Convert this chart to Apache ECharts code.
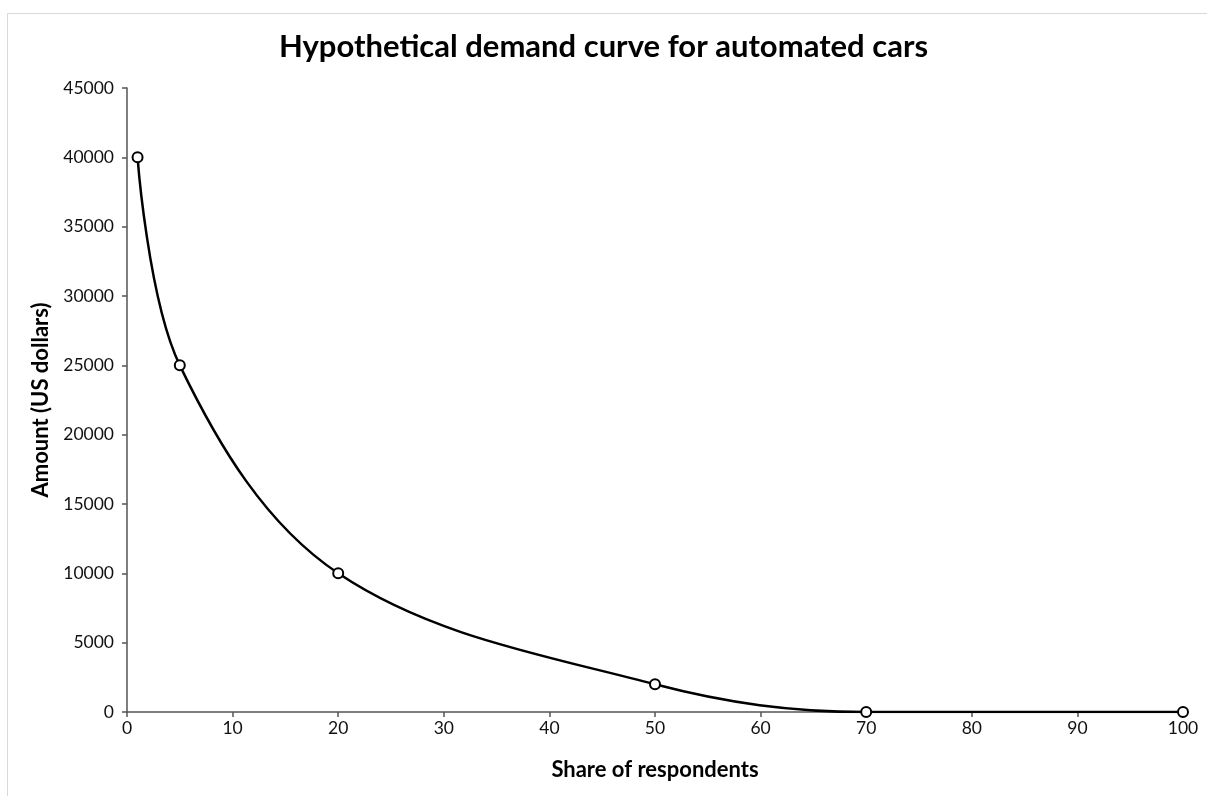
<!DOCTYPE html>
<html>
<head>
<meta charset="utf-8">
<script src="https://cdn.jsdelivr.net/npm/echarts@6/dist/echarts.min.js"></script>
<style>
html, body { margin: 0; padding: 0; background: #fff; }
#frame { position: absolute; left: 7px; top: 13px; width: 1220px; height: 800px; border-left: 1px solid #d9d9d9; border-top: 1px solid #d9d9d9; box-sizing: border-box; }
#chart { position: absolute; left: 0; top: 0; width: 1207px; height: 796px; }
</style>
</head>
<body>
<div id="frame"></div>
<div id="chart"></div>
<script>
const titleText = "Hypothetical demand curve for automated cars";
const xAxisName = "Share of respondents";
const yAxisName = "Amount (US dollars)";
const shareOfRespondents = [1, 5, 20, 50, 70, 100];
const amountUSD = [40000, 25000, 10000, 2000, 0, 0];

const points = shareOfRespondents.map((x, i) => [x, amountUSD[i]]);
const font = "Lato, 'Open Sans', sans-serif";

const chart = echarts.init(document.getElementById('chart'), null, { renderer: 'canvas' });
chart.setOption({
  backgroundColor: 'transparent',
  animation: false,
  title: {
    text: titleText,
    left: 'center',
    top: 26,
    textStyle: { fontFamily: font, fontSize: 31, fontWeight: 'bold', color: '#000' }
  },
  grid: { left: 127, right: 24, top: 88, bottom: 84, containLabel: false },
  xAxis: {
    type: 'value',
    min: 0, max: 100, interval: 10,
    name: xAxisName,
    nameLocation: 'middle',
    nameGap: 47,
    nameTextStyle: { fontFamily: font, fontSize: 22, fontWeight: 'bold', color: '#000' },
    axisLine: { show: true, onZero: false, lineStyle: { color: '#555', width: 1.5 } },
    axisTick: { show: true, inside: false, length: 5, lineStyle: { color: '#555', width: 1.5 } },
    axisLabel: { margin: 7, fontFamily: font, fontSize: 17.5, color: '#111', formatter: v => String(v) },
    splitLine: { show: false }
  },
  yAxis: {
    type: 'value',
    min: 0, max: 45000, interval: 5000,
    name: yAxisName,
    nameLocation: 'middle',
    nameGap: 73,
    nameRotate: 90,
    nameTextStyle: { fontFamily: font, fontSize: 22, fontWeight: 'bold', color: '#000' },
    axisLine: { show: true, lineStyle: { color: '#555', width: 1.5 } },
    axisTick: { show: true, inside: false, length: 5, lineStyle: { color: '#555', width: 1.5 } },
    axisLabel: { margin: 13, fontFamily: font, fontSize: 17.5, color: '#111', formatter: v => String(v) },
    splitLine: { show: false }
  },
  series: [{
    type: 'line',
    data: points,
    smooth: 0.35,
    symbol: 'circle',
    symbolSize: 10,
    showAllSymbol: true,
    lineStyle: { color: '#000', width: 2.5 },
    itemStyle: { color: '#fff', borderColor: '#000', borderWidth: 2 },
    z: 3
  }]
});
</script>
</body>
</html>
